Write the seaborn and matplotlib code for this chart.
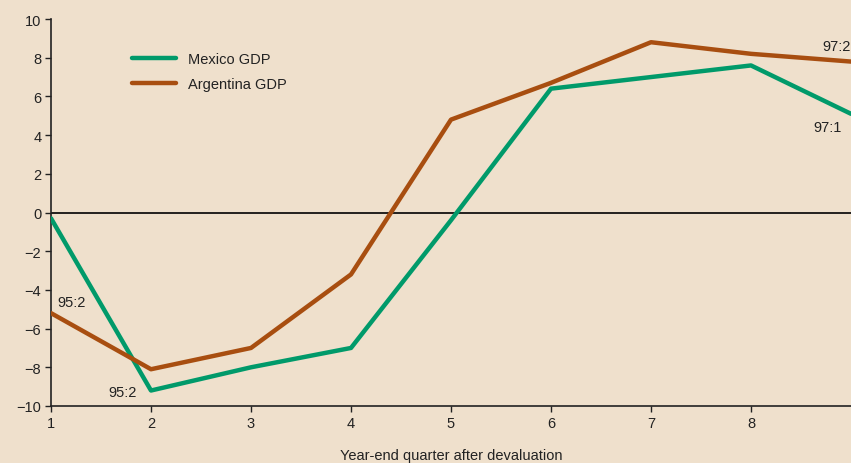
import matplotlib
matplotlib.use("Agg")
import matplotlib.pyplot as plt
import seaborn as sns
import pandas as pd
from matplotlib import font_manager

quarters = [1, 2, 3, 4, 5, 6, 7, 8, 9]
mexico = [-0.3, -9.2, -8.0, -7.0, -0.4, 6.4, 7.0, 7.6, 5.1]
argentina = [-5.2, -8.1, -7.0, -3.2, 4.8, 6.7, 8.8, 8.2, 7.8]
series_names = ["Mexico GDP", "Argentina GDP"]
yticks = [-10, -8, -6, -4, -2, 0, 2, 4, 6, 8, 10]
xticks = [1, 2, 3, 4, 5, 6, 7, 8]

sns.set_theme(style="ticks")
names = {f.name for f in font_manager.fontManager.ttflist}
fam = ["Liberation Sans Narrow", "DejaVu Sans"] if "Liberation Sans Narrow" in names else ["Liberation Sans", "DejaVu Sans"]
plt.rcParams["font.family"] = fam

bg = "#EFE0CC"
colors = {"Mexico GDP": "#009A6A", "Argentina GDP": "#A84E10"}

df = pd.DataFrame({
    "quarter": quarters * 2,
    "gdp": mexico + argentina,
    "series": [series_names[0]] * len(quarters) + [series_names[1]] * len(quarters),
})

fig = plt.figure(figsize=(8.51, 4.64), dpi=100, facecolor=bg)
ax = fig.add_axes([51 / 851, 57 / 464, 800 / 851, 387 / 464], facecolor=bg)
ax.axhline(0, color="black", lw=1.2, zorder=1)
sns.lineplot(data=df, x="quarter", y="gdp", hue="series", palette=colors,
             lw=3.2, ax=ax, zorder=3)

ax.set_xlim(1, 9)
ax.set_ylim(-10, 10)
ax.set_xticks(xticks)
ax.set_yticks(yticks)
ax.set_yticklabels([str(v).replace("-", "\u2212") for v in yticks])
ax.tick_params(axis="both", labelsize=10.5, length=4, width=1, color="#222222", labelcolor="#222222", pad=3)
for s in ["top", "right"]:
    ax.spines[s].set_visible(False)
for s in ["left", "bottom"]:
    ax.spines[s].set_color("#222222")
    ax.spines[s].set_linewidth(1.2)
ax.set_ylabel("")
ax.set_xlabel("Year-end quarter after devaluation", fontsize=10.5, color="#222222", labelpad=13)

leg = ax.legend(loc="upper left", bbox_to_anchor=(0.085, 0.948), frameon=False,
                fontsize=10.5, handlelength=3.0, handletextpad=0.8, labelspacing=0.75)
for t in leg.get_texts():
    t.set_color("#222222")

ann = dict(fontsize=10.5, color="#222222")
ax.text(1.06, -4.6, "95:2", ha="left", va="center", **ann)
ax.text(1.57, -9.3, "95:2", ha="left", va="center", **ann)
ax.text(8.71, 8.6, "97:2", ha="left", va="center", **ann)
ax.text(8.62, 4.4, "97:1", ha="left", va="center", **ann)

fig.savefig("out.png", dpi=100, facecolor=bg)
